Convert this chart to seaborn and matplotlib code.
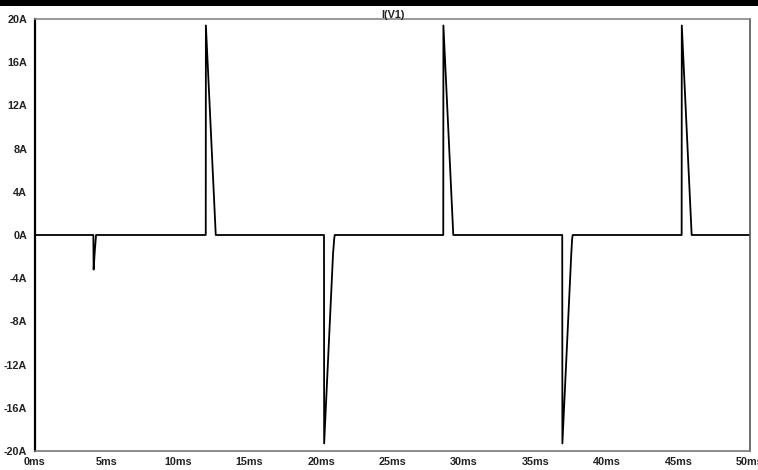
import matplotlib
matplotlib.use("Agg")
import matplotlib.pyplot as plt
import seaborn as sns
import pandas as pd
from matplotlib.patches import Rectangle

# Waveform vertices (time in ms, current in A)
time_ms = [0.0, 4.08, 4.10, 4.18, 4.27, 11.94, 11.95, 12.64,
           20.21, 20.22, 20.84, 20.92, 20.96, 28.55, 28.56, 29.25,
           36.87, 36.88, 37.50, 37.56, 37.60, 45.22, 45.23, 45.92, 50.0]
current_a = [0.0, 0.0, -3.2, -1.5, 0.0, 0.0, 19.4, 0.0,
             0.0, -19.3, -1.8, -0.4, 0.0, 0.0, 19.4, 0.0,
             0.0, -19.3, -1.8, -0.4, 0.0, 0.0, 19.4, 0.0, 0.0]

x_ticks = [0, 5, 10, 15, 20, 25, 30, 35, 40, 45, 50]
x_labels = ["0ms", "5ms", "10ms", "15ms", "20ms", "25ms", "30ms", "35ms", "40ms", "45ms", "50ms"]
y_ticks = [20, 16, 12, 8, 4, 0, -4, -8, -12, -16, -20]
y_labels = ["20A", "16A", "12A", "8A", "4A", "0A", "-4A", "-8A", "-12A", "-16A", "-20A"]
title = "I(V1)"

sns.set_style("white")
plt.rcParams['font.family'] = ['Liberation Sans', 'DejaVu Sans']

W, H = 758, 470
fig = plt.figure(figsize=(W / 100, H / 100), dpi=100)
ax = fig.add_axes([35 / W, (H - 451) / H, (750 - 35) / W, (451 - 19) / H])

df = pd.DataFrame({"t": time_ms, "i": current_a})
sns.lineplot(data=df, x="t", y="i", ax=ax, estimator=None, sort=False,
             color="black", linewidth=1.3)

ax.set_xlim(0, 50)
ax.set_ylim(-20, 20)
ax.set_xticks(x_ticks)
ax.set_xticklabels(x_labels, fontsize=7.8, fontweight="bold")
ax.set_yticks(y_ticks)
ax.set_yticklabels(y_labels, fontsize=7.8, fontweight="bold")
ax.set_xlabel("")
ax.set_ylabel("")
ax.tick_params(axis="both", direction="out", length=5, width=1, pad=0.5,
               color="#444444", labelcolor="#222222")
ax.tick_params(axis="x", pad=-1)

for side, col, lw in [("left", "black", 1.6), ("bottom", "#777777", 1.2),
                      ("top", "#888888", 1.2), ("right", "#555555", 1.2)]:
    ax.spines[side].set_color(col)
    ax.spines[side].set_linewidth(lw)
    ax.spines[side].set_visible(True)

ax.set_title(title, fontsize=7.8, fontweight="bold", pad=1, color="#222222")

# black band at the top of the figure
fig.patches.append(Rectangle((0, (H - 6) / H), 1, 6 / H, transform=fig.transFigure,
                             facecolor="black", edgecolor="none"))

fig.savefig("out.png", dpi=100)
